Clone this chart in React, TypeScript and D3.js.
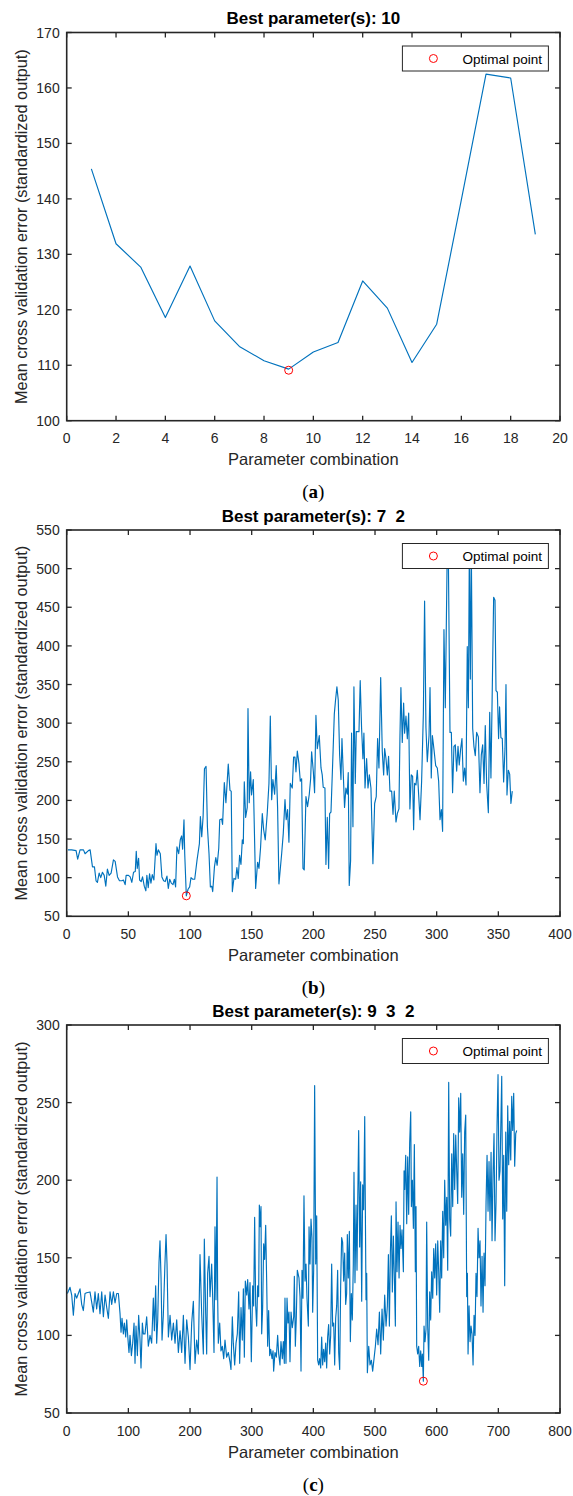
import React from "react";
import * as d3 from "d3";

// ---------- DATA ----------
const aX = [1, 2, 3, 4, 5, 6, 7, 8, 9, 10, 11, 12, 13, 14, 15, 16, 17, 18, 19];
const aY = [145.4, 131.9, 127.7, 118.6, 127.9, 118.0, 113.4, 110.8, 109.3, 112.4, 114.1, 125.2, 120.3, 110.5, 117.4, 139.8, 162.5, 161.8, 133.6];
const aOpt = [9, 109.1];
const aXTicks = [0, 2, 4, 6, 8, 10, 12, 14, 16, 18, 20];
const aYTicks = [100, 110, 120, 130, 140, 150, 160, 170];

const bX = [1, 4, 7.6, 8.9, 10.8, 13.6, 14.9, 17.6, 19, 20.9, 22.5, 23.8, 24.9, 26.3, 27.6, 29, 30.4, 31.7, 33, 34.4, 36, 37.9, 39.3, 41.2, 42.8, 44.7, 46, 47.4, 48.2, 50.1, 51.5, 52.8, 54.2, 55.6, 56.4, 57.2, 58.3, 59.1, 60.4, 61.5, 62.9, 64.2, 65, 66.1, 67.2, 68.3, 69.4, 70.7, 72.4, 73.2, 74.3, 75.9, 77.2, 78.6, 79.9, 81.3, 82.4, 83.5, 84.8, 86.2, 87.3, 88.3, 89.4, 90.8, 92.1, 93.2, 94, 95.1, 95.7, 97, 98.4, 99.7, 100.8, 102.2, 103.8, 105.7, 107.6, 108.4, 109.5, 110.6, 111.7, 113, 114.1, 115.4, 116.5, 117.6, 118.4, 119.8, 120.9, 122, 123.3, 124.1, 125.6, 126.4, 127.8, 129.1, 131, 132.4, 133.4, 134.3, 135.6, 137, 138, 139.1, 140.2, 141.3, 142.4, 143.2, 144, 145.1, 146.4, 147, 148, 149.1, 149.9, 151.3, 153.2, 154.8, 155.9, 157.2, 158.6, 159.7, 161, 162.6, 164, 165.1, 166.2, 167.2, 168.6, 169.9, 171, 172.1, 174.3, 175.6, 177, 178, 179.1, 180.2, 181.3, 182.9, 184, 185.1, 185.9, 187, 188.3, 189.4, 190.5, 191.6, 192.6, 194, 195.3, 196.7, 197.8, 198.6, 200, 201, 202.1, 203.2, 204.8, 206.2, 207.2, 208, 209.4, 210.2, 211.3, 212.4, 213.2, 214.3, 215.9, 217, 218, 219.1, 220.2, 221.3, 222.4, 223.2, 224.3, 225.3, 226.4, 227.5, 228.3, 229.1, 230.2, 231, 232.1, 232.9, 234, 234.8, 237, 238, 239.1, 240.2, 241, 241.9, 243.2, 244.3, 245.4, 246.7, 248.3, 249.7, 251, 252.1, 253.2, 254.6, 255.9, 257, 257.8, 258.9, 260, 261, 262.1, 263.5, 264.6, 265.6, 267, 268.1, 269.4, 270.2, 271, 272.1, 273.2, 274, 275.1, 276.2, 277.3, 278.3, 279.4, 280.5, 281.3, 282.1, 283.2, 284.3, 285.4, 286.5, 287.8, 289.2, 290.2, 291.3, 292.4, 293.8, 294.6, 295.6, 296.5, 297.8, 299.2, 300.5, 301.6, 302.7, 303.8, 304.8, 305.9, 307, 308.6, 309.4, 310.8, 311.9, 312.9, 314, 315.1, 316.2, 317.3, 318.3, 319.4, 320.5, 321.6, 322.7, 323.8, 324.8, 325.7, 326.5, 327.3, 328.1, 329.2, 330.2, 331.3, 332.4, 333.8, 335.1, 336.2, 337.3, 338.4, 339.4, 340.5, 341.9, 343, 344, 346.2, 347.3, 348.1, 349.2, 350.2, 351, 352.1, 353.2, 354.3, 355.4, 356.2, 357, 358.1, 359.2, 360.2, 361.3];
const bY = [136, 136, 135, 124, 136, 136, 131, 135, 136, 114, 114, 96, 94, 106, 100, 107, 103, 89, 111, 103, 106, 123, 121, 101, 96, 96, 97, 91, 103, 103, 101, 94, 107, 108, 134, 112, 125, 97, 95, 101, 89, 83, 103, 87, 105, 93, 104, 97, 144, 129, 136, 131, 101, 96, 95, 102, 86, 98, 93, 91, 98, 88, 140, 131, 149, 154, 137, 175, 131, 76.5, 85, 88, 100, 98, 98, 123, 144, 179, 153, 179, 241, 244, 166, 131, 88, 89, 82, 114, 126, 116, 138, 175, 176, 169, 223, 197, 247, 213, 212, 82, 99, 98, 113, 99, 129, 117, 149, 144, 224, 178, 191, 319, 197, 237, 207, 227, 86, 120, 112, 139, 183, 162, 149, 183, 222, 309, 201, 227, 208, 245, 191, 92, 131, 157, 201, 175, 188, 146, 222, 216, 256, 256, 237, 264, 248, 225, 228, 112, 110, 205, 192, 208, 228, 263, 237, 210, 310, 267, 284, 242, 233, 217, 216, 117, 178, 112, 183, 185, 259, 312, 330, 347, 330, 259, 227, 280, 233, 191, 216, 208, 236, 90, 122, 287, 166, 347, 222, 289, 289, 355, 294, 254, 287, 216, 254, 216, 233, 216, 118, 196, 205, 280, 242, 359, 263, 233, 267, 254, 233, 257, 212, 212, 182, 212, 172, 183, 189, 280, 346, 275, 326, 287, 309, 280, 313, 189, 233, 231, 162, 222, 220, 239, 207, 175, 225, 312, 458, 294, 250, 284, 346, 229, 284, 266, 245, 242, 225, 175, 188, 160, 421, 320, 528, 528, 288, 288, 210, 270, 272, 238, 270, 246, 266, 280, 225, 242, 220, 399, 320, 528, 357, 525, 293, 270, 258, 288, 282, 210, 259, 272, 222, 297, 222, 184, 314, 229, 463, 459, 342, 340, 280, 321, 281, 280, 224, 267, 350, 207, 239, 234, 196, 212];
const bOpt = [97, 76.5];
const bXTicks = [0, 50, 100, 150, 200, 250, 300, 350, 400];
const bYTicks = [50, 100, 150, 200, 250, 300, 350, 400, 450, 500, 550];

const cX = [1.1, 5.4, 8.1, 10.8, 13.5, 16.2, 18.9, 21.6, 24.3, 27, 29.7, 32.4, 37.8, 43.2, 45.9, 48.6, 51.3, 54, 56.8, 59.5, 62.2, 64.9, 67.6, 70.3, 73, 75.7, 78.4, 81.1, 83.8, 86.5, 88.1, 89.7, 91.9, 93.5, 95.7, 97.3, 98.9, 101, 102.7, 104.9, 107, 109.2, 110.8, 112.4, 114.6, 116.7, 118.9, 120.5, 122.7, 124.3, 127, 129.7, 132.4, 135.1, 137.8, 140.5, 142.2, 144.3, 145.9, 147.6, 149.7, 151.3, 153, 154.6, 156.7, 159.4, 161.1, 162.7, 164.9, 167.6, 170.3, 173, 175.7, 178.4, 181.1, 183.8, 186.5, 189.2, 191.9, 194.6, 197.3, 200, 202.7, 205.4, 208.1, 210.8, 213.5, 216.2, 218.9, 221.6, 223.2, 225.4, 227, 228.6, 230.8, 232.4, 235.1, 236.7, 238.9, 240.5, 242.1, 243.8, 244.8, 245.9, 248.1, 250.2, 252.4, 254.6, 256.7, 259.4, 262.1, 264.8, 266.4, 268.6, 270.2, 272.4, 274.6, 276.7, 278.9, 280.5, 282.7, 284.8, 286.5, 288.1, 289.7, 291.9, 293.5, 295.6, 297.3, 299.4, 301.6, 303.2, 304.8, 306.5, 308.1, 309.7, 311.3, 312.4, 314, 315.1, 316.2, 317.8, 319.4, 321, 322.7, 324.3, 325.9, 327.5, 329.2, 330.8, 333, 334.6, 335.6, 337.8, 340, 342.1, 343.8, 345.9, 347.5, 349.7, 351.3, 352.9, 354, 355.6, 357.3, 358.9, 360.5, 362.1, 363.8, 365.9, 368.1, 369.2, 370.8, 372.4, 374, 376.7, 378.4, 380, 381.6, 383.2, 384.8, 386.5, 388.1, 389.7, 391.9, 393, 394.6, 396.2, 397.8, 398.9, 400.5, 402.1, 403.8, 405.4, 407, 408.6, 410.2, 411.9, 413.5, 415.1, 416.7, 418.4, 420, 421.6, 423.2, 424.8, 426.5, 428.1, 429.7, 431.3, 433, 434.6, 436.2, 437.8, 439.4, 441.1, 442.7, 444.3, 445.9, 447.5, 449.2, 450.8, 452.4, 454, 455.1, 456.7, 458.4, 460, 461.6, 463.2, 464.8, 465.9, 467.5, 469.2, 470.8, 471.9, 473.5, 475.1, 476.7, 478.4, 480, 481.6, 483.3, 484.3, 485.4, 486.5, 487.6, 489.8, 491.9, 494.1, 496.2, 498.4, 500.6, 502.7, 504.9, 507.1, 509.2, 511.4, 513.5, 515.7, 517.9, 520, 521.7, 523.3, 524.9, 526.5, 528.1, 529.8, 531.4, 533, 534.1, 535.7, 537.3, 539, 540.6, 542.2, 543.8, 546, 547.1, 548.1, 549.8, 551.4, 553, 554.6, 556.2, 557.9, 559, 560.6, 562.2, 563.8, 565.4, 566.5, 567.6, 569.2, 570.8, 572.5, 574.1, 575.7, 576.8, 578.4, 579.5, 581.1, 582.7, 583.8, 585.4, 587.1, 588.7, 590.3, 591.9, 593.6, 595.2, 596.8, 598.4, 600, 601.7, 603.3, 604.9, 606.5, 608.1, 609.8, 611.4, 613, 614.6, 616.3, 617.9, 619.5, 621.1, 622.7, 624.4, 626, 627.6, 629.2, 630.9, 632.5, 634.1, 635.7, 637.3, 639, 640.6, 642.2, 643.8, 645.4, 647.1, 648.7, 649.8, 650.9, 652.5, 654.1, 655.7, 657.3, 659, 660.6, 662.2, 663.8, 665.4, 667.1, 668.7, 670.3, 671.9, 673.6, 675.2, 676.8, 678.4, 680.1, 681.7, 683.3, 684.9, 686.5, 688.2, 689.8, 691.4, 693, 694.6, 696.3, 697.9, 699.5, 701.1, 702.7, 705.5, 707.1, 708.7, 710.3, 712, 713.6, 715.2, 716.8, 718.4, 720.1, 721.7, 723.3, 724.9, 726.5, 728.2, 729.8];
const cY = [127, 131, 126, 113, 127, 124, 127, 130, 120, 116, 127, 127.5, 128, 115, 128, 117, 127, 114, 128, 112, 126, 118, 111, 128, 120, 128, 121, 127, 127, 114, 102, 111, 101, 108, 99, 110, 100, 89, 100, 87, 95, 108, 82, 106, 87, 113, 97, 79, 108, 101, 101, 112, 93, 100, 95, 124, 103, 132, 95, 110, 147, 161, 137, 97, 113, 147, 165, 146, 99, 113, 97, 108, 95, 110, 89, 103, 89, 113, 82, 110, 99, 78, 108, 122, 82, 97, 88, 152, 114, 88, 162, 114, 88, 140, 151, 125, 146, 125, 89, 170, 123, 202, 125, 95, 108, 90, 93, 85, 97, 86, 89, 83, 78, 112, 95, 81, 95, 101, 128, 82, 118, 97, 130, 86, 135, 126, 136, 117, 134, 83, 132, 119, 176, 119, 106, 132, 125, 184, 170, 183, 101, 118, 159, 149, 171, 135, 93, 116, 87, 91, 85, 90, 77, 89, 86, 100, 88, 81, 96, 85, 96, 82, 124, 82, 124, 108, 115, 83, 115, 105, 112, 138, 93, 112, 142, 137, 125, 77, 142, 124, 190, 135, 146, 124, 106, 170, 146, 175, 163, 115, 142, 261, 146, 177, 84, 81, 85, 79, 99, 81, 91, 83, 95, 79, 99, 107, 88, 100, 146, 106, 108, 81, 111, 119, 142, 89, 78, 132, 163, 160, 135, 153, 120, 127, 165, 137, 167, 96, 127, 110, 146, 205, 134, 184, 142, 184, 232, 157, 199, 122, 197, 181, 241, 183, 123, 140, 76, 93, 81, 84, 77, 85, 93, 104, 94, 115, 88, 117, 97, 126, 106, 119, 152, 106, 153, 177, 128, 164, 137, 106, 186, 141, 173, 137, 171, 156, 168, 141, 206, 194, 216, 172, 215, 178, 224, 244, 183, 200, 169, 223, 141, 183, 93, 88, 93, 80, 90, 80, 88, 70.5, 106, 96, 104, 173, 106, 84, 128, 110, 141, 124, 156, 137, 159, 126, 161, 141, 115, 161, 137, 180, 150, 200, 171, 189, 142, 263, 175, 164, 217, 183, 230, 194, 229, 206, 185, 253, 231, 256, 189, 217, 178, 231, 242, 125, 140, 88, 119, 96, 106, 101, 81, 113, 100, 140, 125, 169, 150, 161, 119, 151, 115, 153, 132, 186, 216, 180, 212, 174, 218, 161, 204, 230, 161, 186, 235, 268, 200, 206, 267, 175, 216, 132, 231, 180, 248, 210, 238, 213, 254, 232, 256, 209, 230, 232];
const cOpt = [578.4, 70.5];
const cXTicks = [0, 100, 200, 300, 400, 500, 600, 700, 800];
const cYTicks = [50, 100, 150, 200, 250, 300];

const titles = ["Best parameter(s): 10", "Best parameter(s): 7  2", "Best parameter(s): 9  3  2"];
const subLabels = ["a", "b", "c"];
const xLabel = "Parameter combination";
const yLabel = "Mean cross validation error (standardized output)";
const legendLabel = "Optimal point";

// ---------- LAYOUT ----------
const W = 573;
const H = 1496;
const LEFT = 66.7;
const RIGHT = 560;
const SANS = "'Liberation Sans', Arial, Helvetica, sans-serif";
const AXIS = "#262626";
const LINE = "#0072BD";

type PanelDef = {
  xs: number[]; ys: number[]; opt: number[];
  xDomain: [number, number]; yDomain: [number, number];
  xTicks: number[]; yTicks: number[];
  top: number; bottom: number; title: string; sub: string;
};

const panels: PanelDef[] = [
  { xs: aX, ys: aY, opt: aOpt, xDomain: [0, 20], yDomain: [100, 170], xTicks: aXTicks, yTicks: aYTicks, top: 32.5, bottom: 420.7, title: titles[0], sub: subLabels[0] },
  { xs: bX, ys: bY, opt: bOpt, xDomain: [0, 400], yDomain: [50, 550], xTicks: bXTicks, yTicks: bYTicks, top: 530, bottom: 916.3, title: titles[1], sub: subLabels[1] },
  { xs: cX, ys: cY, opt: cOpt, xDomain: [0, 800], yDomain: [50, 300], xTicks: cXTicks, yTicks: cYTicks, top: 1025, bottom: 1413, title: titles[2], sub: subLabels[2] },
];

function Panel({ p }: { p: PanelDef }) {
  const x = d3.scaleLinear().domain(p.xDomain).range([LEFT, RIGHT]);
  const y = d3.scaleLinear().domain(p.yDomain).range([p.bottom, p.top]);
  const pts: [number, number][] = p.xs.map((v, i) => [v, p.ys[i]]);
  const line = d3.line<[number, number]>().x((d) => x(d[0])).y((d) => y(d[1]));
  const TL = 5;
  const legW = 146;
  const legH = 25;
  const legX = RIGHT - 11.6 - legW;
  const legY = p.top + 13.5;
  const midY = (p.top + p.bottom) / 2;
  const midX = (LEFT + RIGHT) / 2;
  return (
    <g>
      <text x={midX} y={p.top - 8.5} textAnchor="middle" fontFamily={SANS} fontWeight="bold" fontSize={17} fill="#000" style={{ whiteSpace: "pre" }} xmlSpace="preserve">{p.title}</text>
      <path d={line(pts) || ""} fill="none" stroke={LINE} strokeWidth={1.15} strokeLinejoin="round" />
      <circle cx={x(p.opt[0])} cy={y(p.opt[1])} r={4} fill="none" stroke="#FF0000" strokeWidth={1} />
      <rect x={LEFT} y={p.top} width={RIGHT - LEFT} height={p.bottom - p.top} fill="none" stroke={AXIS} strokeWidth={1.6} />
      {p.xTicks.map((t) => (
        <g key={"xt" + t}>
          <line x1={x(t)} x2={x(t)} y1={p.bottom} y2={p.bottom - TL} stroke={AXIS} strokeWidth={1.3} />
          <line x1={x(t)} x2={x(t)} y1={p.top} y2={p.top + TL} stroke={AXIS} strokeWidth={1.3} />
          <text x={x(t)} y={p.bottom + 22.6} textAnchor="middle" fontFamily={SANS} fontSize={14} fill={AXIS}>{t}</text>
        </g>
      ))}
      {p.yTicks.map((t) => (
        <g key={"yt" + t}>
          <line x1={LEFT} x2={LEFT + TL} y1={y(t)} y2={y(t)} stroke={AXIS} strokeWidth={1.3} />
          <line x1={RIGHT} x2={RIGHT - TL} y1={y(t)} y2={y(t)} stroke={AXIS} strokeWidth={1.3} />
          <text x={LEFT - 7} y={y(t) + 5} textAnchor="end" fontFamily={SANS} fontSize={14} fill={AXIS}>{t}</text>
        </g>
      ))}
      <text x={midX} y={p.bottom + 44.5} textAnchor="middle" fontFamily={SANS} fontSize={16.5} fill={AXIS}>{xLabel}</text>
      <text transform={`translate(26.5,${midY}) rotate(-90)`} textAnchor="middle" fontFamily={SANS} fontSize={16.3} fill={AXIS}>{yLabel}</text>
      <rect x={legX} y={legY} width={legW} height={legH} fill="#fff" stroke={AXIS} strokeWidth={1} />
      <circle cx={legX + 31} cy={legY + legH / 2} r={4} fill="none" stroke="#FF0000" strokeWidth={1} />
      <text x={legX + 60} y={legY + legH / 2 + 5} fontFamily={SANS} fontSize={13.5} fill="#000">{legendLabel}</text>
      <text x={midX} y={p.bottom + 77.5} textAnchor="middle" fontFamily="'Liberation Serif', 'Times New Roman', serif" fontSize={19} fill="#000">
        (<tspan fontWeight="bold">{p.sub}</tspan>)
      </text>
    </g>
  );
}

export default function App() {
  return (
    <svg width={W} height={H} viewBox={`0 0 ${W} ${H}`} style={{ position: "absolute", left: 0, top: 0, background: "#fff" }}>
      <rect x={0} y={0} width={W} height={H} fill="#fff" />
      {panels.map((p, i) => (
        <Panel key={i} p={p} />
      ))}
    </svg>
  );
}
